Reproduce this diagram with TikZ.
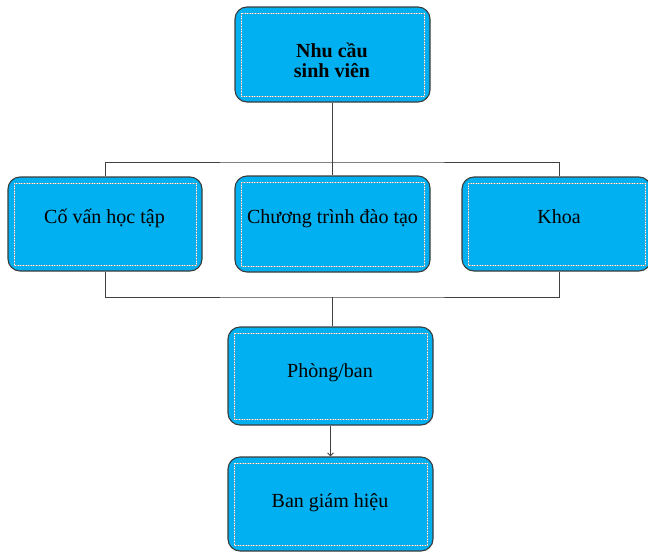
\documentclass[tikz,border=0pt]{standalone}
\usepackage{fontspec}
\setmainfont{Liberation Serif}
\usetikzlibrary{arrows.meta}
\definecolor{boxfill}{HTML}{00B0F0}
\definecolor{boxline}{HTML}{3C3C3C}
\definecolor{connline}{HTML}{404040}
\begin{document}
\begin{tikzpicture}[x=1pt,y=-1pt,
  cbox/.style={rectangle, rounded corners=12pt, draw=boxline, fill=boxfill, line width=1.1pt, inner sep=0pt,
    path picture={
      \draw[sharp corners, gray!70, line width=0.6pt] ([shift={(6pt,-6pt)}]path picture bounding box.north west) rectangle ([shift={(-6pt,6pt)}]path picture bounding box.south east);
      \draw[sharp corners, white, line width=0.6pt, dotted] ([shift={(6pt,-6pt)}]path picture bounding box.north west) rectangle ([shift={(-6pt,6pt)}]path picture bounding box.south east);
    }},
  txt/.style={anchor=base, inner sep=0pt, font=\fontsize{20}{20}\selectfont, align=center},
  conn/.style={draw=connline, line width=0.9pt}
]
\useasboundingbox (0,0) rectangle (648,552);
% boxes
\node[cbox, minimum width=195, minimum height=95] (top) at (332.5,54.5) {};
\node[cbox, minimum width=194, minimum height=94] (left) at (105,224) {};
\node[cbox, minimum width=195, minimum height=96] (mid) at (332.5,224) {};
\node[cbox, minimum width=189, minimum height=94] (right) at (556.5,224) {};
\node[cbox, minimum width=205, minimum height=98] (pb) at (330.5,376) {};
\node[cbox, minimum width=205, minimum height=94] (bgh) at (330.5,504) {};
% texts
\node[txt, font=\fontsize{20}{20}\selectfont\bfseries] (ttop) at (332,77) {Nhu cầu\\sinh viên};
\node[txt] (tleft) at (104.5,223) {Cố vấn học tập};
\node[txt] (tmid) at (332.5,223) {Chương trình đào tạo};
\node[txt] (tright) at (559,223) {Khoa};
\node[txt] (tpb) at (330,377) {Phòng/ban};
\node[txt] (tbgh) at (330,507) {Ban giám hiệu};
% connectors
\coordinate (busT) at (332,162);
\coordinate (busB) at (332,297);
\draw[conn] (top.south -| busT) -- (mid.north -| busT);
\draw[conn] (left.north) |- (busT) -| ([xshift=2.5pt]right.north);
\draw[conn] (left.south) |- (busB) -| ([xshift=2.5pt]right.south);
\draw[conn] (busB) -- (busB |- pb.north);
\draw[conn, -{Straight Barb[length=3pt,width=6pt]}] (pb.south) -- (bgh.north);
\end{tikzpicture}
\end{document}
